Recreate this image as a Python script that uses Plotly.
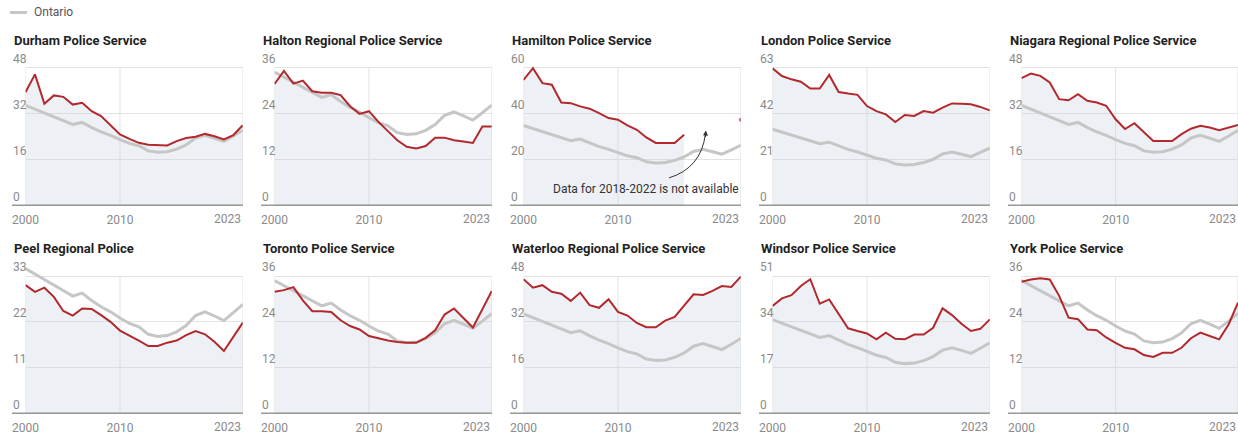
import plotly.graph_objects as go

# ---------------- data ----------------
years = list(range(2000, 2024))

ontario = [34.8, 33.5, 32.2, 30.9, 29.5, 28.2, 28.9, 27.1, 25.6, 24.4, 22.9, 21.6,
           20.8, 19.0, 18.5, 18.7, 19.6, 21.1, 23.5, 24.4, 23.4, 22.3, 24.2, 26.2]

durham = [39.4, 45.6, 35.4, 38.3, 37.8, 35.1, 35.7, 32.8, 31.1, 27.8, 24.7, 23.2,
          21.8, 21.1, 21.1, 20.9, 22.4, 23.5, 23.9, 24.9, 24.1, 23.0, 24.5, 27.9]
halton = [31.7, 35.1, 31.8, 32.6, 29.8, 29.4, 29.4, 28.8, 25.9, 23.9, 24.6, 21.8,
          19.4, 17.0, 15.3, 14.9, 15.5, 17.7, 17.7, 17.0, 16.7, 16.3, 20.6, 20.6]
hamilton = [54.6, 59.7, 53.2, 52.5, 44.8, 44.5, 43.1, 42.1, 40.2, 38.0, 37.3, 34.8,
            32.9, 29.6, 27.2, 27.2, 27.2, 30.8, None, None, None, None, None, 37.3]
london = [62.6, 59.1, 57.6, 56.5, 53.4, 53.4, 59.6, 51.8, 51.1, 50.5, 45.4, 43.1,
          41.6, 38.1, 41.3, 40.9, 43.1, 42.4, 44.7, 46.6, 46.5, 46.2, 45.0, 43.4]
niagara = [44.3, 45.9, 45.1, 42.8, 37.0, 36.6, 38.7, 36.4, 35.8, 34.7, 30.0, 26.6,
           28.6, 25.4, 22.4, 22.4, 22.4, 24.8, 26.7, 27.7, 27.1, 26.2, 27.1, 28.0]
peel = [30.8, 29.2, 30.2, 28.0, 24.6, 23.5, 25.2, 25.1, 23.6, 22.0, 19.9, 18.8,
        17.5, 16.2, 16.2, 17.0, 17.5, 18.8, 19.8, 19.0, 17.2, 15.0, 18.3, 21.8]
toronto = [31.9, 32.3, 33.1, 29.6, 26.8, 26.8, 26.6, 24.4, 22.9, 22.0, 20.3, 19.6,
           19.1, 18.7, 18.5, 18.5, 19.8, 21.8, 25.9, 27.5, 25.1, 22.5, 27.3, 32.1]
waterloo = [46.9, 43.9, 44.8, 42.5, 41.8, 39.3, 42.2, 37.8, 36.9, 39.9, 35.5, 34.2,
            31.6, 30.1, 30.1, 32.4, 33.7, 37.5, 41.6, 41.4, 42.8, 44.5, 44.2, 47.8]
windsor = [39.9, 42.7, 43.9, 47.3, 49.8, 40.7, 42.3, 36.8, 31.6, 30.6, 29.7, 27.5,
           30.0, 27.7, 27.5, 29.3, 29.3, 31.8, 39.0, 36.5, 33.3, 30.6, 31.4, 34.9]
york = [34.5, 35.1, 35.4, 35.1, 30.8, 25.1, 24.7, 22.0, 21.8, 19.9, 18.5, 17.2,
        16.8, 15.3, 14.8, 15.9, 15.9, 17.2, 19.7, 21.2, 20.3, 19.4, 23.3, 29.0]

services = ["Durham Police Service", "Halton Regional Police Service",
            "Hamilton Police Service", "London Police Service",
            "Niagara Regional Police Service", "Peel Regional Police",
            "Toronto Police Service", "Waterloo Regional Police Service",
            "Windsor Police Service", "York Police Service"]
series = [durham, halton, hamilton, london, niagara, peel, toronto, waterloo, windsor, york]
axis_max = [48, 36, 60, 63, 48, 33, 36, 48, 51, 36]
x_ticks = [2000, 2010, 2023]
x_tick_labels = ["2000", "2010", "2023"]
legend_label = "Ontario"
hamilton_note = "Data for 2018-2022 is not available"

# ---------------- style / layout ----------------
W, H = 1238, 433
FONT = "Roboto"
RED = "#b3282d"
GREY = "#c6c6c6"
FILL = "rgba(196,210,222,0.30)"
GRID = "#e2e2e2"
TICK_C = "#8a8a8a"

col_left = [25.5 + 249 * i for i in range(5)]
plot_w = 217.3
row_top = [67.5, 276.0]
row_bot = [205.5, 413.5]
ext = 12  # px of headroom above top gridline so lines aren't clipped
label_off = 13.5


def runs(vals):
    """contiguous non-missing index runs"""
    out, start = [], None
    for i, v in enumerate(vals + [None]):
        if v is not None and start is None:
            start = i
        elif v is None and start is not None:
            out.append((start, i))
            start = None
    return out


fig = go.Figure()
shapes, annotations = [], []
layout_axes = {}

for k, (name, vals, top) in enumerate(zip(services, series, axis_max)):
    r, c = divmod(k, 5)
    sfx = "" if k == 0 else str(k + 1)
    xa, ya = "x" + sfx, "y" + sfx
    x0 = col_left[c]
    x1 = min(x0 + plot_w, W)
    ppu = (row_bot[r] - row_top[r]) / top
    rng_top = top + ext / ppu
    ticks_y = [0, top // 3, 2 * top // 3, top]

    layout_axes["xaxis" + sfx] = dict(
        domain=[x0 / W, x1 / W], range=[2000, 2023], anchor=ya,
        tickvals=x_ticks[:2], ticktext=x_tick_labels[:2],
        showgrid=False, zeroline=False, showline=False, ticks="",
        ticklabelstandoff=5, automargin=False,
        tickfont=dict(family=FONT, size=12, color=TICK_C), fixedrange=True)
    layout_axes["yaxis" + sfx] = dict(
        domain=[1 - row_bot[r] / H, 1 - (row_top[r] - ext) / H],
        range=[0, rng_top], anchor=xa, tickvals=ticks_y[1:],
        showticklabels=False, showgrid=True, gridcolor=GRID, gridwidth=1,
        zeroline=False, showline=False, ticks="", fixedrange=True, automargin=False)

    # area under the service line (one fill per contiguous run)
    for a, b in runs(vals):
        if b - a >= 2:
            fig.add_trace(go.Scatter(x=years[a:b], y=vals[a:b], xaxis=xa, yaxis=ya,
                                     mode="lines", line=dict(width=0), fill="tozeroy",
                                     fillcolor=FILL, hoverinfo="skip", showlegend=False))
    # Ontario line
    fig.add_trace(go.Scatter(x=years, y=ontario, xaxis=xa, yaxis=ya, mode="lines",
                             line=dict(color=GREY, width=3), name=legend_label,
                             showlegend=False))
    # service line (isolated points get a small marker)
    n = len(vals)
    sizes = []
    for i, v in enumerate(vals):
        iso = v is not None and (i == 0 or vals[i - 1] is None) and (i == n - 1 or vals[i + 1] is None)
        sizes.append(4 if iso else 0)
    fig.add_trace(go.Scatter(x=years, y=vals, xaxis=xa, yaxis=ya, mode="lines+markers",
                             line=dict(color=RED, width=2),
                             marker=dict(size=sizes, color=RED, line=dict(width=0)),
                             connectgaps=False, name=name, showlegend=False))

    # vertical gridlines
    for v in x_ticks:
        shapes.append(dict(type="line", xref=xa, yref=ya, x0=v, x1=v, y0=0, y1=top,
                           line=dict(color=GRID, width=1), layer="below"))
    # baseline
    off = label_off / (x1 - x0)
    shapes.append(dict(type="line", xref=xa + " domain", yref=ya, x0=-off, x1=1,
                       y0=0, y1=0, line=dict(color="#333333", width=1.6)))
    # y tick labels (left aligned, above gridline)
    for t in ticks_y:
        annotations.append(dict(text=str(t), xref=xa + " domain", yref=ya, x=-off, y=t,
                                xanchor="left", yanchor="bottom", showarrow=False,
                                font=dict(family=FONT, size=12, color=TICK_C),
                                borderpad=0, yshift=1))
    # last x tick label, right aligned
    annotations.append(dict(text=x_tick_labels[2], xref=xa, yref=ya, x=2023, y=0,
                            xanchor="right", yanchor="top", showarrow=False,
                            font=dict(family=FONT, size=12, color=TICK_C), yshift=-4))
    # panel title
    annotations.append(dict(text="<b>" + name + "</b>", xref="paper", yref="paper",
                            x=(x0 - label_off) / W, y=1 - (40 if r == 0 else 248) / H,
                            xanchor="left", yanchor="middle", showarrow=False,
                            font=dict(family=FONT, size=13, color="#1f1f1f")))

# Hamilton note with curved arrow
annotations.append(dict(text=hamilton_note, xref="x3", yref="y3", x=2023, y=7.2,
                        xanchor="right", yanchor="middle", showarrow=False,
                        font=dict(family=FONT, size=12, color="#333333")))
shapes.append(dict(type="path", xref="x3", yref="y3",
                   path="M 2015.4,12.0 Q 2018.8,16.3 2019.25,31.0",
                   line=dict(color="#333333", width=1)))
annotations.append(dict(text="", xref="x3", yref="y3", x=2019.3, y=32.6,
                        showarrow=True, arrowhead=2, arrowsize=1, arrowwidth=1,
                        arrowcolor="#333333", ax=-0.5, ay=8, standoff=0))

# legend (Ontario)
shapes.append(dict(type="line", xref="paper", yref="paper", x0=10 / W, x1=27 / W,
                   y0=1 - 12.5 / H, y1=1 - 12.5 / H, line=dict(color=GREY, width=3)))
annotations.append(dict(text=legend_label, xref="paper", yref="paper", x=32 / W,
                        y=1 - 12.5 / H, xanchor="left", yanchor="middle", showarrow=False,
                        font=dict(family=FONT, size=12, color="#555555")))

fig.update_layout(**layout_axes)
fig.update_layout(width=W, height=H,
                  margin=dict(l=0, r=0, t=0, b=0, pad=0, autoexpand=False),
                  paper_bgcolor="white", plot_bgcolor="rgba(0,0,0,0)",
                  showlegend=False, shapes=shapes, annotations=annotations,
                  font=dict(family=FONT))

fig.write_html("out.html", config={"displayModeBar": False},
               post_script="document.body.style.margin='0';document.body.style.overflow='hidden';")
